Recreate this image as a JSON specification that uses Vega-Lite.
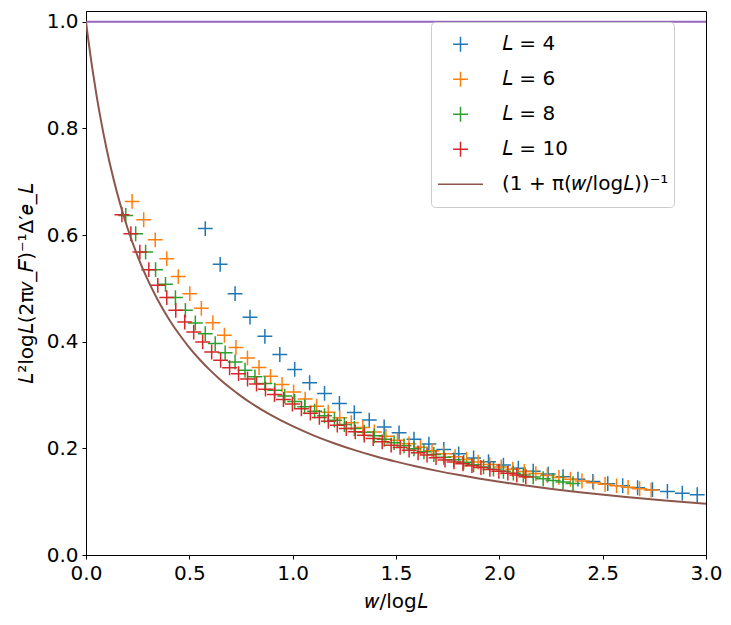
{
  "$schema": "https://vega.github.io/schema/vega-lite/v6.json",
  "autosize": {"type": "none"},
  "width": 620,
  "height": 544,
  "padding": {"left": 86, "top": 11, "right": 25, "bottom": 70},
  "background": "white",
  "config": {
    "view": {"stroke": "black", "strokeWidth": 1},
    "axis": {
      "grid": false, "domainColor": "black", "tickColor": "black", "tickSize": 4,
      "labelFont": "DejaVu Sans", "labelFontSize": 20, "labelColor": "black", "labelPadding": 4,
      "titleFont": "DejaVu Sans", "titleFontSize": 20, "titleFontWeight": "normal", "titleColor": "black"
    },
    "legend": {
      "orient": "none", "legendX": 345, "legendY": 11,
      "labelFont": "DejaVu Sans", "labelFontSize": 20, "labelColor": "black", "labelLimit": 0,
      "fillColor": "rgba(255,255,255,0.8)", "strokeColor": "#cccccc", "cornerRadius": 4,
      "padding": 5, "symbolSize": 702, "symbolStrokeWidth": 1.5, "rowPadding": 0, "clipHeight": 34.5,
      "symbolOffset": 1, "labelOffset": 18, "symbolFillColor": "transparent"
    }
  },
  "datasets": {
    "one": [{"y": 1}],
    "curve": [
      {"series": "(1 + π(𝑤/log𝐿))⁻¹", "x": 0, "y": 1},
      {"series": "(1 + π(𝑤/log𝐿))⁻¹", "x": 0.01, "y": 0.9695},
      {"series": "(1 + π(𝑤/log𝐿))⁻¹", "x": 0.02, "y": 0.9409},
      {"series": "(1 + π(𝑤/log𝐿))⁻¹", "x": 0.03, "y": 0.9139},
      {"series": "(1 + π(𝑤/log𝐿))⁻¹", "x": 0.05, "y": 0.8642},
      {"series": "(1 + π(𝑤/log𝐿))⁻¹", "x": 0.07, "y": 0.8197},
      {"series": "(1 + π(𝑤/log𝐿))⁻¹", "x": 0.1, "y": 0.7609},
      {"series": "(1 + π(𝑤/log𝐿))⁻¹", "x": 0.125, "y": 0.718},
      {"series": "(1 + π(𝑤/log𝐿))⁻¹", "x": 0.15, "y": 0.6797},
      {"series": "(1 + π(𝑤/log𝐿))⁻¹", "x": 0.175, "y": 0.6453},
      {"series": "(1 + π(𝑤/log𝐿))⁻¹", "x": 0.2, "y": 0.6141},
      {"series": "(1 + π(𝑤/log𝐿))⁻¹", "x": 0.25, "y": 0.5601},
      {"series": "(1 + π(𝑤/log𝐿))⁻¹", "x": 0.3, "y": 0.5148},
      {"series": "(1 + π(𝑤/log𝐿))⁻¹", "x": 0.35, "y": 0.4763},
      {"series": "(1 + π(𝑤/log𝐿))⁻¹", "x": 0.4, "y": 0.4431},
      {"series": "(1 + π(𝑤/log𝐿))⁻¹", "x": 0.45, "y": 0.4143},
      {"series": "(1 + π(𝑤/log𝐿))⁻¹", "x": 0.5, "y": 0.389},
      {"series": "(1 + π(𝑤/log𝐿))⁻¹", "x": 0.55, "y": 0.3666},
      {"series": "(1 + π(𝑤/log𝐿))⁻¹", "x": 0.6, "y": 0.3466},
      {"series": "(1 + π(𝑤/log𝐿))⁻¹", "x": 0.65, "y": 0.3287},
      {"series": "(1 + π(𝑤/log𝐿))⁻¹", "x": 0.7, "y": 0.3126},
      {"series": "(1 + π(𝑤/log𝐿))⁻¹", "x": 0.75, "y": 0.298},
      {"series": "(1 + π(𝑤/log𝐿))⁻¹", "x": 0.8, "y": 0.2846},
      {"series": "(1 + π(𝑤/log𝐿))⁻¹", "x": 0.9, "y": 0.2613},
      {"series": "(1 + π(𝑤/log𝐿))⁻¹", "x": 1.0, "y": 0.2415},
      {"series": "(1 + π(𝑤/log𝐿))⁻¹", "x": 1.1, "y": 0.2244},
      {"series": "(1 + π(𝑤/log𝐿))⁻¹", "x": 1.2, "y": 0.2096},
      {"series": "(1 + π(𝑤/log𝐿))⁻¹", "x": 1.3, "y": 0.1967},
      {"series": "(1 + π(𝑤/log𝐿))⁻¹", "x": 1.4, "y": 0.1852},
      {"series": "(1 + π(𝑤/log𝐿))⁻¹", "x": 1.5, "y": 0.1751},
      {"series": "(1 + π(𝑤/log𝐿))⁻¹", "x": 1.6, "y": 0.1659},
      {"series": "(1 + π(𝑤/log𝐿))⁻¹", "x": 1.7, "y": 0.1577},
      {"series": "(1 + π(𝑤/log𝐿))⁻¹", "x": 1.8, "y": 0.1503},
      {"series": "(1 + π(𝑤/log𝐿))⁻¹", "x": 1.9, "y": 0.1435},
      {"series": "(1 + π(𝑤/log𝐿))⁻¹", "x": 2.0, "y": 0.1373},
      {"series": "(1 + π(𝑤/log𝐿))⁻¹", "x": 2.2, "y": 0.1264},
      {"series": "(1 + π(𝑤/log𝐿))⁻¹", "x": 2.4, "y": 0.1171},
      {"series": "(1 + π(𝑤/log𝐿))⁻¹", "x": 2.6, "y": 0.1091},
      {"series": "(1 + π(𝑤/log𝐿))⁻¹", "x": 2.8, "y": 0.1021},
      {"series": "(1 + π(𝑤/log𝐿))⁻¹", "x": 3.0, "y": 0.0959}
    ],
    "pts": [
      {"series": "𝐿 = 4", "x": 0.5771, "y": 0.612},
      {"series": "𝐿 = 4", "x": 0.6492, "y": 0.545},
      {"series": "𝐿 = 4", "x": 0.7213, "y": 0.49},
      {"series": "𝐿 = 4", "x": 0.7935, "y": 0.446},
      {"series": "𝐿 = 4", "x": 0.8656, "y": 0.41},
      {"series": "𝐿 = 4", "x": 0.9378, "y": 0.376},
      {"series": "𝐿 = 4", "x": 1.0099, "y": 0.348},
      {"series": "𝐿 = 4", "x": 1.082, "y": 0.323},
      {"series": "𝐿 = 4", "x": 1.1542, "y": 0.303},
      {"series": "𝐿 = 4", "x": 1.2263, "y": 0.284},
      {"series": "𝐿 = 4", "x": 1.2984, "y": 0.267},
      {"series": "𝐿 = 4", "x": 1.3706, "y": 0.253},
      {"series": "𝐿 = 4", "x": 1.4427, "y": 0.24},
      {"series": "𝐿 = 4", "x": 1.5148, "y": 0.229},
      {"series": "𝐿 = 4", "x": 1.587, "y": 0.217},
      {"series": "𝐿 = 4", "x": 1.6591, "y": 0.208},
      {"series": "𝐿 = 4", "x": 1.7312, "y": 0.198},
      {"series": "𝐿 = 4", "x": 1.8034, "y": 0.1897},
      {"series": "𝐿 = 4", "x": 1.8755, "y": 0.182},
      {"series": "𝐿 = 4", "x": 1.9476, "y": 0.175},
      {"series": "𝐿 = 4", "x": 2.0198, "y": 0.1686},
      {"series": "𝐿 = 4", "x": 2.0919, "y": 0.1626},
      {"series": "𝐿 = 4", "x": 2.164, "y": 0.157},
      {"series": "𝐿 = 4", "x": 2.2362, "y": 0.1517},
      {"series": "𝐿 = 4", "x": 2.3083, "y": 0.1468},
      {"series": "𝐿 = 4", "x": 2.3804, "y": 0.1422},
      {"series": "𝐿 = 4", "x": 2.4526, "y": 0.138},
      {"series": "𝐿 = 4", "x": 2.5247, "y": 0.1337},
      {"series": "𝐿 = 4", "x": 2.5969, "y": 0.13},
      {"series": "𝐿 = 4", "x": 2.669, "y": 0.126},
      {"series": "𝐿 = 4", "x": 2.7411, "y": 0.1225},
      {"series": "𝐿 = 4", "x": 2.8133, "y": 0.1192},
      {"series": "𝐿 = 4", "x": 2.8854, "y": 0.116},
      {"series": "𝐿 = 4", "x": 2.9575, "y": 0.113},

      {"series": "𝐿 = 6", "x": 0.2232, "y": 0.663},
      {"series": "𝐿 = 6", "x": 0.2791, "y": 0.6286},
      {"series": "𝐿 = 6", "x": 0.3349, "y": 0.591},
      {"series": "𝐿 = 6", "x": 0.3907, "y": 0.5556},
      {"series": "𝐿 = 6", "x": 0.4465, "y": 0.522},
      {"series": "𝐿 = 6", "x": 0.5023, "y": 0.49},
      {"series": "𝐿 = 6", "x": 0.5581, "y": 0.4625},
      {"series": "𝐿 = 6", "x": 0.6139, "y": 0.4357},
      {"series": "𝐿 = 6", "x": 0.6697, "y": 0.412},
      {"series": "𝐿 = 6", "x": 0.7255, "y": 0.389},
      {"series": "𝐿 = 6", "x": 0.7814, "y": 0.3695},
      {"series": "𝐿 = 6", "x": 0.8372, "y": 0.3515},
      {"series": "𝐿 = 6", "x": 0.893, "y": 0.335},
      {"series": "𝐿 = 6", "x": 0.9488, "y": 0.3197},
      {"series": "𝐿 = 6", "x": 1.0046, "y": 0.3058},
      {"series": "𝐿 = 6", "x": 1.0604, "y": 0.2924},
      {"series": "𝐿 = 6", "x": 1.1162, "y": 0.279},
      {"series": "𝐿 = 6", "x": 1.172, "y": 0.2678},
      {"series": "𝐿 = 6", "x": 1.2278, "y": 0.2575},
      {"series": "𝐿 = 6", "x": 1.2837, "y": 0.2479},
      {"series": "𝐿 = 6", "x": 1.3395, "y": 0.239},
      {"series": "𝐿 = 6", "x": 1.3953, "y": 0.2307},
      {"series": "𝐿 = 6", "x": 1.4511, "y": 0.2228},
      {"series": "𝐿 = 6", "x": 1.5069, "y": 0.2153},
      {"series": "𝐿 = 6", "x": 1.5627, "y": 0.2084},
      {"series": "𝐿 = 6", "x": 1.6185, "y": 0.2019},
      {"series": "𝐿 = 6", "x": 1.6743, "y": 0.1957},
      {"series": "𝐿 = 6", "x": 1.7301, "y": 0.1899},
      {"series": "𝐿 = 6", "x": 1.786, "y": 0.1843},
      {"series": "𝐿 = 6", "x": 1.8418, "y": 0.1791},
      {"series": "𝐿 = 6", "x": 1.8976, "y": 0.1742},
      {"series": "𝐿 = 6", "x": 1.9534, "y": 0.1695},
      {"series": "𝐿 = 6", "x": 2.0092, "y": 0.165},
      {"series": "𝐿 = 6", "x": 2.065, "y": 0.1607},
      {"series": "𝐿 = 6", "x": 2.1208, "y": 0.1566},
      {"series": "𝐿 = 6", "x": 2.1766, "y": 0.1527},
      {"series": "𝐿 = 6", "x": 2.2324, "y": 0.1491},
      {"series": "𝐿 = 6", "x": 2.2883, "y": 0.1455},
      {"series": "𝐿 = 6", "x": 2.3441, "y": 0.142},
      {"series": "𝐿 = 6", "x": 2.3999, "y": 0.1388},
      {"series": "𝐿 = 6", "x": 2.4557, "y": 0.1356},
      {"series": "𝐿 = 6", "x": 2.5115, "y": 0.1326},
      {"series": "𝐿 = 6", "x": 2.5673, "y": 0.1297},
      {"series": "𝐿 = 6", "x": 2.6231, "y": 0.1269},
      {"series": "𝐿 = 6", "x": 2.6789, "y": 0.1242},
      {"series": "𝐿 = 6", "x": 2.7347, "y": 0.1217},

      {"series": "𝐿 = 8", "x": 0.1924, "y": 0.6367},
      {"series": "𝐿 = 8", "x": 0.2404, "y": 0.6024},
      {"series": "𝐿 = 8", "x": 0.2885, "y": 0.568},
      {"series": "𝐿 = 8", "x": 0.3366, "y": 0.535},
      {"series": "𝐿 = 8", "x": 0.3847, "y": 0.5075},
      {"series": "𝐿 = 8", "x": 0.4328, "y": 0.4826},
      {"series": "𝐿 = 8", "x": 0.4809, "y": 0.4588},
      {"series": "𝐿 = 8", "x": 0.529, "y": 0.435},
      {"series": "𝐿 = 8", "x": 0.5771, "y": 0.415},
      {"series": "𝐿 = 8", "x": 0.6252, "y": 0.3964},
      {"series": "𝐿 = 8", "x": 0.6733, "y": 0.379},
      {"series": "𝐿 = 8", "x": 0.7213, "y": 0.362},
      {"series": "𝐿 = 8", "x": 0.7694, "y": 0.3464},
      {"series": "𝐿 = 8", "x": 0.8175, "y": 0.334},
      {"series": "𝐿 = 8", "x": 0.8656, "y": 0.3215},
      {"series": "𝐿 = 8", "x": 0.9137, "y": 0.309},
      {"series": "𝐿 = 8", "x": 0.9618, "y": 0.298},
      {"series": "𝐿 = 8", "x": 1.0099, "y": 0.288},
      {"series": "𝐿 = 8", "x": 1.058, "y": 0.2778},
      {"series": "𝐿 = 8", "x": 1.1061, "y": 0.2697},
      {"series": "𝐿 = 8", "x": 1.1542, "y": 0.261},
      {"series": "𝐿 = 8", "x": 1.2022, "y": 0.2528},
      {"series": "𝐿 = 8", "x": 1.2503, "y": 0.2447},
      {"series": "𝐿 = 8", "x": 1.2984, "y": 0.2372},
      {"series": "𝐿 = 8", "x": 1.3465, "y": 0.2301},
      {"series": "𝐿 = 8", "x": 1.3946, "y": 0.2234},
      {"series": "𝐿 = 8", "x": 1.4427, "y": 0.2171},
      {"series": "𝐿 = 8", "x": 1.4908, "y": 0.2107},
      {"series": "𝐿 = 8", "x": 1.5389, "y": 0.2047},
      {"series": "𝐿 = 8", "x": 1.587, "y": 0.199},
      {"series": "𝐿 = 8", "x": 1.6351, "y": 0.1936},
      {"series": "𝐿 = 8", "x": 1.6831, "y": 0.1885},
      {"series": "𝐿 = 8", "x": 1.7312, "y": 0.1833},
      {"series": "𝐿 = 8", "x": 1.7793, "y": 0.1784},
      {"series": "𝐿 = 8", "x": 1.8274, "y": 0.1737},
      {"series": "𝐿 = 8", "x": 1.8755, "y": 0.1693},
      {"series": "𝐿 = 8", "x": 1.9236, "y": 0.1651},
      {"series": "𝐿 = 8", "x": 1.9717, "y": 0.161},
      {"series": "𝐿 = 8", "x": 2.0198, "y": 0.1571},
      {"series": "𝐿 = 8", "x": 2.0679, "y": 0.1534},
      {"series": "𝐿 = 8", "x": 2.116, "y": 0.1498},
      {"series": "𝐿 = 8", "x": 2.164, "y": 0.1464},
      {"series": "𝐿 = 8", "x": 2.2121, "y": 0.143},
      {"series": "𝐿 = 8", "x": 2.2602, "y": 0.1398},
      {"series": "𝐿 = 8", "x": 2.3083, "y": 0.1368},
      {"series": "𝐿 = 8", "x": 2.3564, "y": 0.1339},

      {"series": "𝐿 = 10", "x": 0.1737, "y": 0.638},
      {"series": "𝐿 = 10", "x": 0.2171, "y": 0.6024},
      {"series": "𝐿 = 10", "x": 0.2606, "y": 0.568},
      {"series": "𝐿 = 10", "x": 0.304, "y": 0.535},
      {"series": "𝐿 = 10", "x": 0.3474, "y": 0.5056},
      {"series": "𝐿 = 10", "x": 0.3909, "y": 0.4826},
      {"series": "𝐿 = 10", "x": 0.4343, "y": 0.4588},
      {"series": "𝐿 = 10", "x": 0.4777, "y": 0.4369},
      {"series": "𝐿 = 10", "x": 0.5212, "y": 0.418},
      {"series": "𝐿 = 10", "x": 0.5646, "y": 0.3995},
      {"series": "𝐿 = 10", "x": 0.608, "y": 0.3807},
      {"series": "𝐿 = 10", "x": 0.6514, "y": 0.365},
      {"series": "𝐿 = 10", "x": 0.6949, "y": 0.351},
      {"series": "𝐿 = 10", "x": 0.7383, "y": 0.34},
      {"series": "𝐿 = 10", "x": 0.7817, "y": 0.33},
      {"series": "𝐿 = 10", "x": 0.8252, "y": 0.3205},
      {"series": "𝐿 = 10", "x": 0.8686, "y": 0.311},
      {"series": "𝐿 = 10", "x": 0.912, "y": 0.301},
      {"series": "𝐿 = 10", "x": 0.9554, "y": 0.2915},
      {"series": "𝐿 = 10", "x": 0.9989, "y": 0.283},
      {"series": "𝐿 = 10", "x": 1.0423, "y": 0.274},
      {"series": "𝐿 = 10", "x": 1.0857, "y": 0.266},
      {"series": "𝐿 = 10", "x": 1.1292, "y": 0.258},
      {"series": "𝐿 = 10", "x": 1.1726, "y": 0.2508},
      {"series": "𝐿 = 10", "x": 1.216, "y": 0.2434},
      {"series": "𝐿 = 10", "x": 1.2595, "y": 0.2372},
      {"series": "𝐿 = 10", "x": 1.3029, "y": 0.2309},
      {"series": "𝐿 = 10", "x": 1.3463, "y": 0.2247},
      {"series": "𝐿 = 10", "x": 1.3897, "y": 0.2185},
      {"series": "𝐿 = 10", "x": 1.4332, "y": 0.2122},
      {"series": "𝐿 = 10", "x": 1.4766, "y": 0.206},
      {"series": "𝐿 = 10", "x": 1.52, "y": 0.2017},
      {"series": "𝐿 = 10", "x": 1.5635, "y": 0.1966},
      {"series": "𝐿 = 10", "x": 1.6069, "y": 0.1916},
      {"series": "𝐿 = 10", "x": 1.6503, "y": 0.1873},
      {"series": "𝐿 = 10", "x": 1.6937, "y": 0.1825},
      {"series": "𝐿 = 10", "x": 1.7372, "y": 0.178},
      {"series": "𝐿 = 10", "x": 1.7806, "y": 0.1745},
      {"series": "𝐿 = 10", "x": 1.824, "y": 0.171},
      {"series": "𝐿 = 10", "x": 1.8675, "y": 0.1675},
      {"series": "𝐿 = 10", "x": 1.9109, "y": 0.164},
      {"series": "𝐿 = 10", "x": 1.9543, "y": 0.1605},
      {"series": "𝐿 = 10", "x": 1.9977, "y": 0.157},
      {"series": "𝐿 = 10", "x": 2.0412, "y": 0.1535},
      {"series": "𝐿 = 10", "x": 2.0846, "y": 0.15},
      {"series": "𝐿 = 10", "x": 2.128, "y": 0.1468}
    ]
  },
  "layer": [
    {
      "data": {"name": "one"},
      "mark": {"type": "rule", "color": "#9467bd", "strokeWidth": 2},
      "encoding": {
        "y": {"field": "y", "type": "quantitative", "scale": {"domain": [0, 1.02], "nice": false, "zero": false}}
      }
    },
    {
      "data": {"name": "pts"},
      "mark": {"type": "point", "filled": false, "strokeWidth": 1.5, "size": 2025, "opacity": 1, "clip": true},
      "encoding": {
        "x": {"field": "x", "type": "quantitative"},
        "y": {"field": "y", "type": "quantitative"},
        "color": {"field": "series", "type": "nominal"},
        "shape": {
          "field": "series", "type": "nominal",
          "scale": {
            "domain": ["𝐿 = 4", "𝐿 = 6", "𝐿 = 8", "𝐿 = 10", "(1 + π(𝑤/log𝐿))⁻¹"],
            "range": ["M-0.33,0H0.33M0,-0.33V0.33", "M-0.33,0H0.33M0,-0.33V0.33", "M-0.33,0H0.33M0,-0.33V0.33", "M-0.33,0H0.33M0,-0.33V0.33", "M-1,0H1"]
          },
          "legend": {"title": null, "encode": {"symbols": {"update": {"size": {"value": 2025}}}}}
        }
      }
    },
    {
      "data": {"name": "curve"},
      "mark": {"type": "line", "strokeWidth": 2, "interpolate": "monotone", "clip": true},
      "encoding": {
        "x": {
          "field": "x", "type": "quantitative",
          "scale": {"domain": [0, 3], "nice": false, "zero": false},
          "axis": {"title": "𝑤/log𝐿", "values": [0, 0.5, 1, 1.5, 2, 2.5, 3], "format": ".1f", "titlePadding": 8, "labelFlush": false}
        },
        "y": {
          "field": "y", "type": "quantitative",
          "axis": {"title": "𝐿²log𝐿(2π𝑣_𝐹)⁻¹Δ′𝑒_𝐿", "values": [0, 0.2, 0.4, 0.6, 0.8, 1.0], "format": ".1f", "titlePadding": 10, "labelFlush": false}
        },
        "color": {
          "field": "series", "type": "nominal",
          "scale": {
            "domain": ["𝐿 = 4", "𝐿 = 6", "𝐿 = 8", "𝐿 = 10", "(1 + π(𝑤/log𝐿))⁻¹"],
            "range": ["#1f77b4", "#ff7f0e", "#2ca02c", "#d62728", "#8c564b"]
          },
          "legend": {"title": null, "encode": {"symbols": {"update": {"size": {"value": 2025}}}}}
        }
      }
    }
  ],
  "resolve": {"scale": {"color": "shared", "shape": "shared"}}
}
